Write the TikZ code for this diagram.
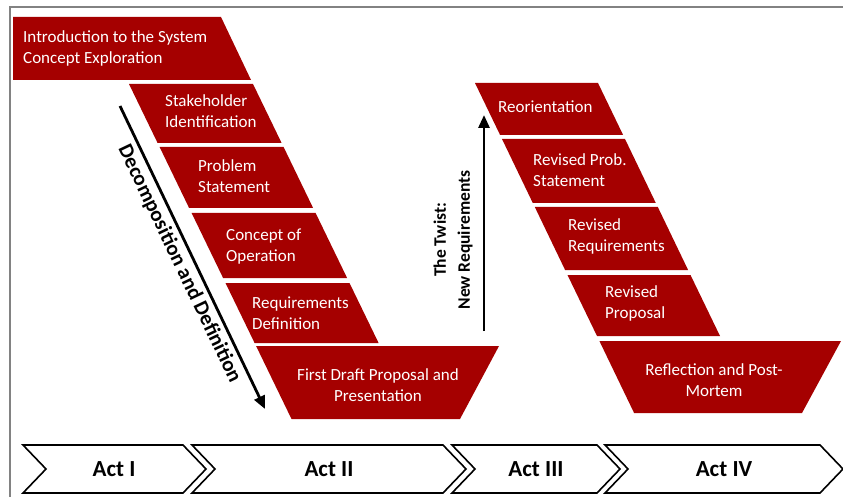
\documentclass[tikz,border=0pt]{standalone}
\usepackage{fontspec}
\setmainfont{Carlito}
\usetikzlibrary{arrows.meta}
\definecolor{boxred}{RGB}{165,0,0}
\definecolor{framegray}{RGB}{130,130,130}

\begin{document}
\begin{tikzpicture}[x=1pt,y=-1pt,
  stage/.style={fill=boxred},
  stagetext/.style={text=white, font=\fontsize{17}{21}\selectfont, align=left, anchor=west, inner sep=0pt},
  ctrtext/.style={text=white, font=\fontsize{17}{21}\selectfont, align=center, inner sep=0pt},
  actbox/.style={draw=black, fill=white, line width=1.6pt, line join=miter},
  acttext/.style={font=\fontsize{23}{27}\bfseries\selectfont, inner sep=0pt},
  flow/.style={line width=2.8pt, -{Triangle[length=13pt,width=11pt]}},
  flowtext/.style={font=\fontsize{21}{25}\bfseries\selectfont, inner sep=0pt}
]
\useasboundingbox (0,0) rectangle (843,497);

% outer frame
\draw[framegray, line width=2pt] (10,497) -- (10,7) -- (843,7);

% ---- descending side: decomposition stages ----
\path[stage] (13,17) -- (221,17) -- (251,80) -- (13,80) -- cycle;
\node[stagetext] (intro) at (23,48) {Introduction to the System\\Concept Exploration};

\path[stage] (129,84) -- (253,84) -- (281.6,143) -- (157.6,143) -- cycle;
\node[stagetext] (stake) at (165,111) {Stakeholder\\Identification};

\path[stage] (159.6,147) -- (283.6,147) -- (313.1,208) -- (189.1,208) -- cycle;
\node[stagetext] (problem) at (198,176) {Problem\\Statement};

\path[stage] (191.6,213) -- (315.6,213) -- (347.1,278) -- (223.1,278) -- cycle;
\node[stagetext] (conops) at (226,247) {Concept of\\Operation};

\path[stage] (225.5,283) -- (349.5,283) -- (378.6,343) -- (254.6,343) -- cycle;
\node[stagetext] (reqdef) at (252,313.5) {Requirements\\Definition};

\path[stage] (256.1,346) -- (499,346) -- (460,419) -- (291.5,419) -- cycle;
\node[ctrtext] (draft) at (378,385) {First Draft Proposal and\\Presentation};

% ---- second pass: revised stages ----
\path[stage] (475,83) -- (598,83) -- (623.1,135) -- (500.1,135) -- cycle;
\node[stagetext] (reorient) at (498,107) {Reorientation};

\path[stage] (502,139) -- (625,139) -- (655.8,203) -- (532.8,203) -- cycle;
\node[stagetext] (revprob) at (533,170.5) {Revised Prob.\\Statement};

\path[stage] (534.8,207) -- (657.8,207) -- (688.1,270) -- (565.1,270) -- cycle;
\node[stagetext] (revreq) at (568,236) {Revised\\Requirements};

\path[stage] (567.5,275) -- (690.5,275) -- (720,336) -- (597,336) -- cycle;
\node[stagetext] (revprop) at (605,303.5) {Revised\\Proposal};

\path[stage] (599.4,341) -- (841,341) -- (802,413) -- (634.1,413) -- cycle;
\node[ctrtext] (reflect) at (714,380.5) {Reflection and Post-\\Mortem};

% ---- flow arrows ----
\coordinate (decstart) at (120,106);
\coordinate (decend) at (265,409);
\draw[flow] (decstart) -- (decend)
  node[flowtext, midway, sloped, below=4pt] (declabel) {Decomposition and Definition};

\coordinate (twiststart) at (484,331);
\coordinate (twistend) at (484,115);
\draw[flow] (twiststart) -- (twistend);
\node[font=\fontsize{17.5}{24}\bfseries\selectfont, inner sep=0pt, align=center, rotate=90]
  (twistlabel) at (453,240) {The Twist:\\New Requirements};

% ---- act chevrons ----
\path[actbox] (23,445) -- (183,445) -- (206,469) -- (183,493) -- (23,493) -- (46,469) -- cycle;
\node[acttext] (act1) at (114,469) {Act I};

\path[actbox] (192,445) -- (443,445) -- (466,469) -- (443,493) -- (192,493) -- (215,469) -- cycle;
\node[acttext] (act2) at (329,469) {Act II};

\path[actbox] (452,445) -- (597,445) -- (620,469) -- (597,493) -- (452,493) -- (475,469) -- cycle;
\node[acttext] (act3) at (536,469) {Act III};

\path[actbox] (605,445) -- (820,445) -- (843,469) -- (820,493) -- (605,493) -- (628,469) -- cycle;
\node[acttext] (act4) at (724,469) {Act IV};
\end{tikzpicture}
\end{document}
